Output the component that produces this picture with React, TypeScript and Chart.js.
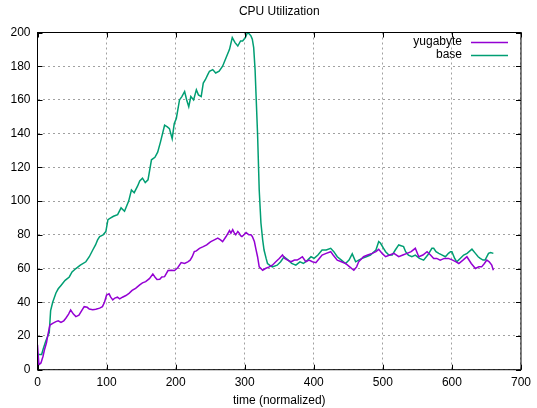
import React, { useEffect, useRef } from "react";
import { Chart, registerables } from "chart.js";

Chart.register(...registerables);

const chartTitle = "CPU Utilization";
const xAxisTitle = "time (normalized)";
const seriesNames = ["yugabyte", "base"];
const seriesColors = ["#9400d3", "#009e73"];

const xTicks = [0, 100, 200, 300, 400, 500, 600, 700];
const yTicks = [0, 20, 40, 60, 80, 100, 120, 140, 160, 180, 200];

const yugaX = [0, 2, 5, 8, 10, 13, 15, 18, 22, 26.7, 30, 34, 38, 41, 45, 48, 52, 55.6, 60, 64, 67.6, 72, 75, 80, 84.4, 90, 94, 97, 100, 103.6, 106, 109, 112, 115.7, 119, 123, 128, 132.5, 137, 142, 148, 152, 156.6, 162, 167, 170, 173, 177, 180, 184, 189, 194, 198.4, 203, 208, 213, 217.6, 221, 224, 227, 230, 234.5, 240, 245, 249, 251, 256, 261, 265, 268, 273, 278, 280, 282.6, 285, 287, 290, 292, 294, 296, 299, 302, 306, 309, 311, 314, 316, 318.6, 321, 326, 330, 335.5, 340, 345, 350, 354.7, 358, 362, 367, 372, 376, 380, 383.5, 388.5, 393, 398, 403, 408, 412, 418, 424.5, 428, 434, 440, 446, 452, 458, 462, 465, 472, 478, 484.5, 490, 494, 499, 504, 510, 516, 523, 529, 535, 541, 547, 552, 558, 564, 569, 573.6, 578, 583, 589, 595, 601, 606, 610, 616, 621.7, 628, 634, 639, 643, 647, 650.5, 654, 657.7, 660];
const yugaY = [14.7, 3, 4, 8, 11.7, 16, 20.6, 26.5, 27.5, 28.5, 29, 28, 29, 30.5, 33, 35.4, 33, 31.5, 32.3, 35, 37.4, 37, 36, 35.5, 35.8, 36.5, 37.4, 40, 44.3, 45, 43, 41.4, 42.5, 43, 42, 43, 44, 45.3, 47, 48.3, 50.3, 51.5, 52.2, 54, 56.8, 55, 53.5, 53.6, 55, 55.2, 58.8, 59, 58.8, 60.5, 63.5, 63, 64, 65, 67, 70, 70.5, 72, 73, 74, 75.4, 76, 77, 78, 77, 76, 79, 82.5, 81, 83, 81, 80, 82, 81, 79.5, 79, 80, 81.3, 80, 80, 79, 76, 72, 67, 61, 59, 60, 61, 62, 64, 66, 68, 66, 65, 64, 65, 65, 66, 67, 64, 65, 64, 63.5, 66, 68, 69, 70, 68, 65, 64, 63, 61, 59, 61, 64, 67, 68, 69, 70, 71.4, 69, 67, 68, 69, 67, 68, 69, 70, 72, 67, 68, 70, 68, 66, 66, 65, 66, 66, 65, 64, 63, 65, 67, 63, 60, 61, 61, 63, 65, 64, 62, 59];

const baseX = [0, 3, 6, 8, 12, 17, 19, 22, 26.7, 30, 34, 40, 46, 50, 55.6, 62, 70, 75, 80, 84, 87, 90, 95, 99, 102, 106, 110, 116, 121, 126, 132, 136, 140, 145, 148, 152, 156, 160, 165, 170, 174, 178, 184, 188, 191, 195, 198, 201, 205.6, 209, 213, 216, 219, 222, 226, 230, 233, 237, 240, 243, 246.5, 249, 253.7, 258, 263, 268, 273, 278, 282, 286, 290, 294, 297, 301, 304, 307, 309, 311, 313, 315, 316.5, 318.6, 321, 323.5, 326, 328, 331, 333, 336, 340, 347, 352, 357, 363, 368, 374, 380, 385, 391, 396, 400.5, 406, 412, 418, 424.5, 429, 434, 440, 446, 451, 455.7, 460.6, 465, 470, 476, 482, 490, 494, 496.7, 501, 504, 508.7, 513.5, 518, 523, 530, 533, 537, 542, 547, 553, 559, 565, 571, 573.6, 577, 581, 586, 590.6, 595, 598, 600, 604, 607, 612, 617, 622, 629, 634, 638, 641, 645, 648, 653, 656, 660];
const baseY = [9, 9, 9, 12, 17, 22, 35, 40, 45.5, 48, 50, 53, 55, 58, 60, 62, 64, 67, 71, 74, 77, 79, 80, 82, 89, 90, 91, 92, 96, 94, 100, 106.6, 105, 109, 112, 113.6, 111, 112.6, 124.5, 126, 129, 135, 145, 144, 143, 137, 146, 149, 160, 162, 165, 160, 156, 162, 160, 166, 163, 162, 170, 172, 175, 177, 178, 176, 177, 180, 185, 190, 197, 194, 192, 195, 195, 197, 200, 199, 198, 196, 191, 178, 162, 140, 106.6, 87, 77, 71, 66, 63, 62, 61, 62, 64, 67, 65, 63, 62, 64, 63, 65, 67, 66, 68, 71, 71, 72, 70, 67, 65, 63, 65, 68.7, 64, 65, 66, 67, 68, 71, 76, 75, 72, 70, 68, 68, 71, 74, 73, 70, 68, 67, 68, 66, 65, 68, 72, 72, 70, 69, 68, 67, 69, 70, 70, 66, 64, 66, 68, 69, 71.5, 69, 67, 66, 65, 65, 69, 69.5, 69];

const FONT = "'Liberation Sans', Arial, sans-serif";

const gnuplotPlugin = {
  id: "gnuplotDecor",
  afterDraw(chart: any) {
    const { ctx, chartArea } = chart;
    const { left, right, top, bottom } = chartArea;
    const xs = chart.scales.x;
    const ys = chart.scales.y;
    ctx.save();
    ctx.strokeStyle = "#000";
    ctx.lineWidth = 1;
    ctx.strokeRect(left, top, right - left, bottom - top);
    const tl = 5;
    ctx.beginPath();
    xTicks.forEach((v) => {
      const px = Math.round(xs.getPixelForValue(v)) + 0.5;
      ctx.moveTo(px, bottom);
      ctx.lineTo(px, bottom - tl);
      ctx.moveTo(px, top);
      ctx.lineTo(px, top + tl);
    });
    yTicks.forEach((v) => {
      const py = Math.round(ys.getPixelForValue(v)) + 0.5;
      ctx.moveTo(left, py);
      ctx.lineTo(left + tl, py);
      ctx.moveTo(right, py);
      ctx.lineTo(right - tl, py);
    });
    ctx.stroke();
    ctx.fillStyle = "#000";
    ctx.font = `12px ${FONT}`;
    ctx.textAlign = "center";
    ctx.textBaseline = "middle";
    ctx.fillText(chartTitle, (left + right) / 2, 12);
    ctx.fillText(xAxisTitle, (left + right) / 2, 401);
    ctx.textAlign = "right";
    chart.data.datasets.forEach((ds: any, i: number) => {
      const y = 42 + i * 13;
      ctx.fillStyle = "#000";
      ctx.fillText(ds.label, 462, y);
      ctx.strokeStyle = ds.borderColor;
      ctx.lineWidth = 1.5;
      ctx.beginPath();
      ctx.moveTo(471, y + 0.5);
      ctx.lineTo(508, y + 0.5);
      ctx.stroke();
    });
    ctx.restore();
  },
};

export default function App() {
  const ref = useRef<HTMLCanvasElement | null>(null);
  useEffect(() => {
    document.body.style.margin = "0";
    const canvas = ref.current;
    if (!canvas) return;
    const chart = new Chart(canvas, {
      type: "line",
      data: {
        datasets: [
          {
            label: seriesNames[0],
            data: yugaX.map((x, i) => ({ x, y: yugaY[i] })),
            borderColor: seriesColors[0],
            backgroundColor: seriesColors[0],
            borderWidth: 1.5,
            pointRadius: 0,
            tension: 0,
          },
          {
            label: seriesNames[1],
            data: baseX.map((x, i) => ({ x, y: baseY[i] })),
            borderColor: seriesColors[1],
            backgroundColor: seriesColors[1],
            borderWidth: 1.5,
            pointRadius: 0,
            tension: 0,
          },
        ],
      },
      options: {
        responsive: false,
        animation: false,
        layout: { padding: { left: 0, right: 14.5, top: 32.5, bottom: 0 } },
        plugins: {
          legend: { display: false },
          title: { display: false },
          tooltip: { enabled: false },
        },
        scales: {
          x: {
            type: "linear",
            min: 0,
            max: 700,
            afterBuildTicks: (s: any) => {
              s.ticks = xTicks.map((v) => ({ value: v }));
            },
            afterFit: (s: any) => {
              s.height = 38.3;
            },
            grid: { color: "#a0a0a0", lineWidth: 1, drawTicks: false },
            border: { display: false, dash: [2, 3] },
            ticks: {
              color: "#000",
              font: { family: FONT, size: 12 },
              padding: 6,
              maxRotation: 0,
            },
          },
          y: {
            type: "linear",
            min: 0,
            max: 200,
            afterBuildTicks: (s: any) => {
              s.ticks = yTicks.map((v) => ({ value: v }));
            },
            afterFit: (s: any) => {
              s.width = 37.5;
            },
            grid: { color: "#a0a0a0", lineWidth: 1, drawTicks: false },
            border: { display: false, dash: [2, 3] },
            ticks: {
              color: "#000",
              font: { family: FONT, size: 12 },
              padding: 7,
            },
          },
        },
      },
      plugins: [gnuplotPlugin],
    });
    return () => chart.destroy();
  }, []);
  return (
    <div style={{ width: 537, height: 408 }}>
      <canvas ref={ref} width={537} height={408} />
    </div>
  );
}
